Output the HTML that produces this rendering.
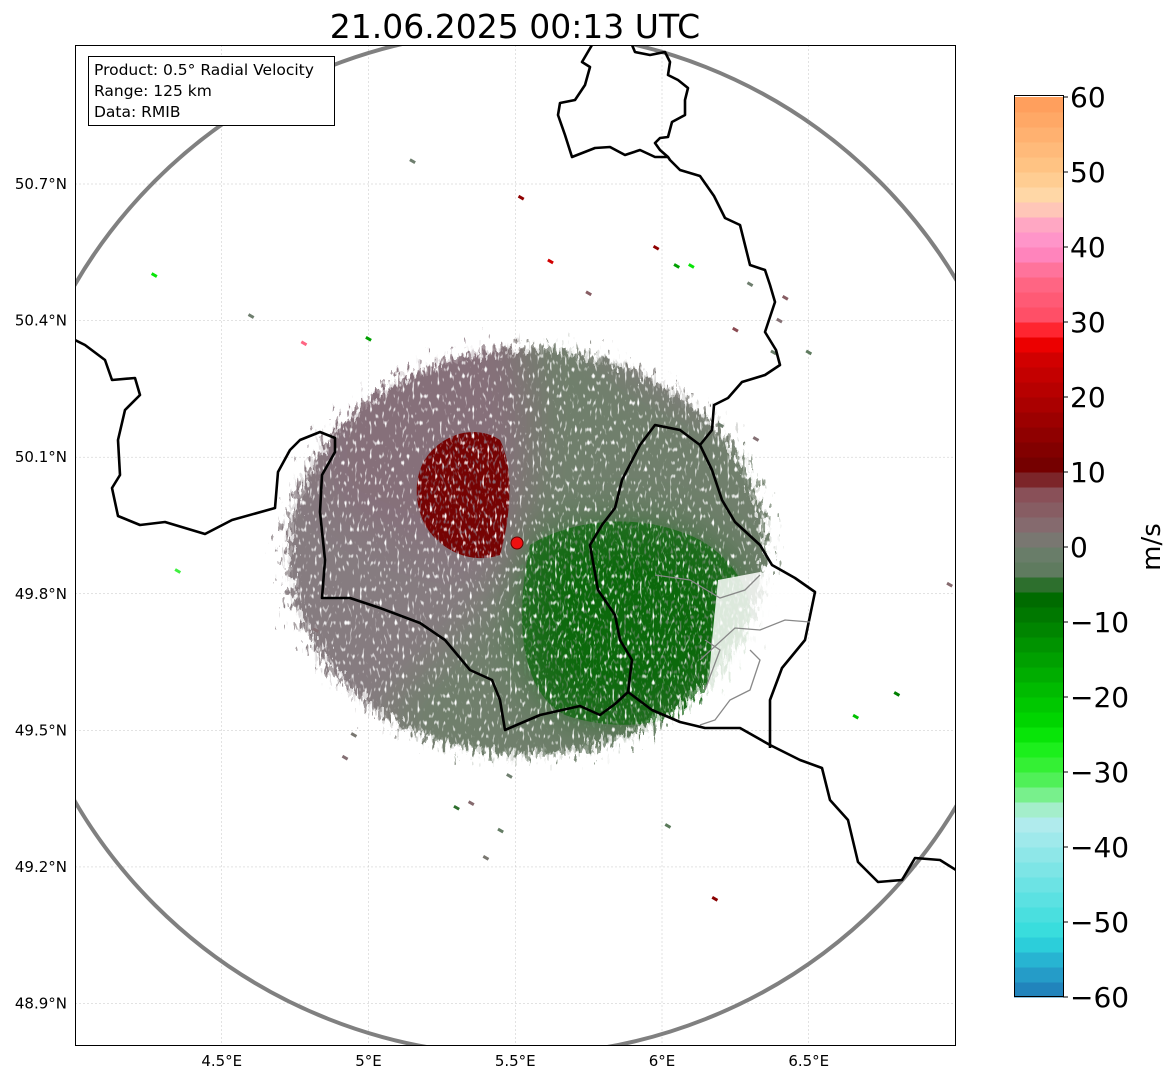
<!DOCTYPE html>
<html><head><meta charset="utf-8">
<style>
html,body{margin:0;padding:0;background:#fff;}
body{width:1171px;height:1081px;overflow:hidden;font-family:"DejaVu Sans","Liberation Sans",sans-serif;}
svg text{font-family:"DejaVu Sans","Liberation Sans",sans-serif;}
</style></head>
<body>
<svg id="fig" width="1171" height="1081" viewBox="0 0 1171 1081" xmlns="http://www.w3.org/2000/svg">
<defs>
  <clipPath id="axclip"><rect x="75" y="45" width="881" height="1001"/></clipPath>
  <radialGradient id="edgegrad" cx="527" cy="552" r="300" gradientUnits="userSpaceOnUse" gradientTransform="translate(527 552) scale(1 0.85) translate(-527 -552)">
    <stop offset="0.72" stop-color="#fff"/>
    <stop offset="1" stop-color="#000"/>
  </radialGradient>
  <filter id="edgef" x="0" y="0" width="100%" height="100%" color-interpolation-filters="sRGB">
    <feTurbulence type="fractalNoise" baseFrequency="0.28 0.09" numOctaves="2" seed="3" result="n"/>
    <feComposite in="SourceGraphic" in2="n" operator="arithmetic" k2="1" k3="1.0" k4="-0.5" result="s"/>
    <feComponentTransfer in="s">
      <feFuncR type="discrete" tableValues="0 1"/>
      <feFuncG type="discrete" tableValues="0 1"/>
      <feFuncB type="discrete" tableValues="0 1"/>
      <feFuncA type="linear" slope="0" intercept="1"/>
    </feComponentTransfer>
  </filter>
  <filter id="soft" x="-10%" y="-10%" width="120%" height="120%">
    <feGaussianBlur stdDeviation="22"/>
  </filter>
  <filter id="holes" x="0" y="0" width="100%" height="100%" color-interpolation-filters="sRGB">
    <feTurbulence type="fractalNoise" baseFrequency="0.4 0.15" numOctaves="1" seed="11"/>
    <feColorMatrix type="matrix" values="0 0 0 0 1  0 0 0 0 1  0 0 0 0 1  6 0 0 0 -3.6"/>
  </filter>
  <filter id="redspeck" x="0" y="0" width="100%" height="100%" color-interpolation-filters="sRGB">
    <feTurbulence type="fractalNoise" baseFrequency="0.45 0.2" numOctaves="1" seed="21"/>
    <feColorMatrix type="matrix" values="0 0 0 0 0.53  0 0 0 0 0.42  0 0 0 0 0.46  5 0 0 0 -2.7"/>
  </filter>
  <filter id="greenspeck" x="0" y="0" width="100%" height="100%" color-interpolation-filters="sRGB">
    <feTurbulence type="fractalNoise" baseFrequency="0.45 0.2" numOctaves="1" seed="31"/>
    <feColorMatrix type="matrix" values="0 0 0 0 0.38  0 0 0 0 0.52  0 0 0 0 0.38  5 0 0 0 -2.7"/>
  </filter>
  <mask id="echomask" maskUnits="userSpaceOnUse" x="0" y="0" width="1171" height="1081">
    <rect x="0" y="0" width="1171" height="1081" fill="url(#edgegrad)" filter="url(#edgef)"/>
  </mask>
  <clipPath id="redclip"><path d="M420,470 C430,440 470,420 500,440 C515,470 510,520 500,555 C470,565 440,550 425,525 C415,505 415,485 420,470 Z"/></clipPath>
  <clipPath id="greenclip"><path d="M525,540 C570,515 640,505 700,535 C760,570 770,630 740,680 C705,730 620,740 560,720 C520,700 505,630 525,540 Z"/></clipPath>
</defs>

<g>
  <rect x="75" y="45" width="881" height="1001" fill="#fff"/>
  <g id="grid"></g>
  <g clip-path="url(#axclip)">
    <g mask="url(#echomask)">
      <g filter="url(#soft)">
        <ellipse cx="527" cy="552" rx="320" ry="280" fill="#867c80"/>
        <path d="M517,280 C580,340 640,380 680,400 L840,470 L850,560 L820,760 L700,820 L560,830 L470,800 L380,720 C440,650 505,600 517,545 Z" fill="#6f7f6c"/>
        <path d="M340,370 C420,325 480,310 517,315 C540,420 525,500 510,545 C470,565 400,545 330,505 C310,460 320,420 340,370 Z" fill="#86707a"/>
        <path d="M530,545 C570,520 640,510 700,540 C755,572 765,630 735,678 C700,725 620,735 565,715 C525,695 512,630 530,545 Z" fill="#0b6a0b"/>
      </g>
      <path d="M530,545 C570,520 640,510 700,540 C755,572 765,630 735,678 C700,725 620,735 565,715 C525,695 512,630 530,545 Z" fill="#0b6a0b" opacity="0.7"/>
      <rect x="500" y="500" width="280" height="250" fill="#fff" filter="url(#greenspeck)" clip-path="url(#greenclip)"/>
      <path d="M420,470 C430,440 470,420 500,440 C515,470 510,520 500,555 C470,565 440,550 425,525 C415,505 415,485 420,470 Z" fill="#760303"/>
      <rect x="400" y="420" width="140" height="150" filter="url(#redspeck)" clip-path="url(#redclip)"/>
      <rect x="0" y="0" width="1171" height="1081" filter="url(#holes)"/>
    </g>
    <polygon points="718,580 760,572 790,580 812,592 800,640 780,670 768,700 745,705 715,720 708,690 712,640" fill="#fff" opacity="0.85"/>
    <g id="scatter"></g>
    <circle cx="517" cy="543" r="512" fill="none" stroke="#808080" stroke-width="4"/>
    <g id="borders" fill="none" stroke="#000" stroke-width="2.6" stroke-linejoin="round"></g>
    <g fill="none" stroke="#888" stroke-width="1.3">
      <polyline points="655,575 690,580 720,598 745,590 760,575"/>
      <polyline points="700,660 735,628 760,630 785,620 810,622"/>
      <polyline points="705,690 720,650 705,640"/>
      <polyline points="700,725 715,720 730,700 750,690 760,660 750,650"/>
    </g>
    <circle cx="517" cy="543" r="6" fill="#ee1111" stroke="#600" stroke-width="1"/>
  </g>
  <rect x="75.5" y="45.5" width="880" height="1000" fill="none" stroke="#000" stroke-width="1"/>
  <g id="ticks"></g>
  <g>
    <rect x="88.5" y="56.5" width="246" height="69" fill="#fff" stroke="#000" stroke-width="1"/>
    <text x="94" y="75" font-size="15.5">Product: 0.5° Radial Velocity</text>
    <text x="94" y="96" font-size="15.5">Range: 125 km</text>
    <text x="94" y="117" font-size="15.5">Data: RMIB</text>
  </g>
  <text x="515" y="38" font-size="33" text-anchor="middle">21.06.2025 00:13 UTC</text>
</g>

<g>
  <g id="cbar"></g>
  <rect x="1014.5" y="95.5" width="49" height="901" fill="none" stroke="#000" stroke-width="1"/>
  <g id="cbticks"></g>
  <text x="1160" y="547" font-size="26" text-anchor="middle" transform="rotate(-90 1160 547)">m/s</text>
</g>
</svg>

<script>
const NS = "http://www.w3.org/2000/svg";
// axis data
const lonTicks = [4.5, 5, 5.5, 6, 6.5];
const lonLabels = ["4.5°E", "5°E", "5.5°E", "6°E", "6.5°E"];
const latTicks = [50.7, 50.4, 50.1, 49.8, 49.5, 49.2, 48.9];
const latLabels = ["50.7°N", "50.4°N", "50.1°N", "49.8°N", "49.5°N", "49.2°N", "48.9°N"];
const cbTicks = [60, 50, 40, 30, 20, 10, 0, -10, -20, -30, -40, -50, -60];
// colorbar anchor colours (value, colour), bins of 2 m/s
const cbAnchorVals = [-60, -58, -56, -54, -52, -36, -34, -32, -30, -26, -24, -6, -4, 0, 2, 8, 10, 26, 28, 30, 36, 40, 44, 46, 50, 60];
const cbAnchorCols = ["#1f77b4","#2390c4","#26a8cc","#28c0d8","#30dcdc","#b8ecee","#90f0a8","#60f070","#40f040","#10ee10","#00dc00","#006400","#5a7a5a","#6e7e6e","#847074","#8a4a52","#6e0000","#d80000","#ff0000","#ff4a60","#ff6a8a","#ff8ccc","#ffb0c0","#ffdcb0","#ffc888","#ff9a58"];
// approximate outlying echo cells (lon, lat, velocity)
const echoLon = [4.27,4.6,4.78,4.35,5.98,6.05,6.3,6.42,6.5,6.66,6.8,6.98,5.15,5.52,5.62,5.0,4.82,5.48,5.35,5.45,5.4,4.95,4.92,5.3,6.18,6.02,6.4,6.38,6.2,6.32,5.75,6.1,6.25];
const echoLat = [50.5,50.41,50.35,49.85,50.56,50.52,50.48,50.45,50.33,49.53,49.58,49.82,50.75,50.67,50.53,50.36,49.72,49.4,49.34,49.28,49.22,49.49,49.44,49.33,49.13,49.29,50.4,50.33,50.17,50.14,50.46,50.52,50.38];
const echoVel = [-25,0,35,-30,15,-15,0,5,-3,-20,-10,3,0,15,25,-15,2,0,3,-2,1,1,2,-5,14,-4,2,-1,0,2,5,-25,8];

const lonX = lon => 75 + (lon - 4.0) * 293.5;
const latY = lat => 184 + (50.7 - lat) * 455.3;
const vY = v => 547 - v * 7.5;

function hex2rgb(h){return [1,3,5].map(i=>parseInt(h.substr(i,2),16));}
function colorFor(v){
  for(let i=0;i<cbAnchorVals.length-1;i++){
    if(v>=cbAnchorVals[i] && v<=cbAnchorVals[i+1]){
      const t=(v-cbAnchorVals[i])/(cbAnchorVals[i+1]-cbAnchorVals[i]);
      const a=hex2rgb(cbAnchorCols[i]), b=hex2rgb(cbAnchorCols[i+1]);
      return "rgb("+a.map((c,k)=>Math.round(c+(b[k]-c)*t)).join(",")+")";
    }
  }
  return cbAnchorCols[cbAnchorCols.length-1];
}
function mk(tag, attrs, parent){const e=document.createElementNS(NS,tag);for(const k in attrs)e.setAttribute(k,attrs[k]);parent.appendChild(e);return e;}

// grid and ticks
const grid=document.getElementById('grid'), ticks=document.getElementById('ticks');
lonTicks.forEach((lon,i)=>{
  const x=lonX(lon);
  const g=mk('line',{x1:x,y1:45,x2:x,y2:1046,stroke:'#c4c4c4','stroke-width':0.5,'stroke-dasharray':'2,2'},grid);
  
  
  const t=mk('text',{x:x,y:1066,'font-size':15,'text-anchor':'middle'},ticks);
  t.textContent=lonLabels[i];
  
  
});
latTicks.forEach((lat,i)=>{
  const y=latY(lat);
  const g=mk('line',{x1:75,y1:y,x2:956,y2:y,stroke:'#c4c4c4','stroke-width':0.5,'stroke-dasharray':'2,2'},grid);
  
  
  const t=mk('text',{x:67,y:y+5,'font-size':15,'text-anchor':'end'},ticks);
  t.textContent=latLabels[i];
  
  
});

// colorbar
const cbar=document.getElementById('cbar'), cbt=document.getElementById('cbticks');
for(let v=-60; v<60; v+=2){
  const r=mk('rect',{x:1014,y:vY(v+2),width:50,height:vY(v)-vY(v+2)+0.5,fill:colorFor(v+1)},cbar);
  
  
}
cbTicks.forEach(v=>{
  const y=vY(v);
  mk('line',{x1:1063,y1:y,x2:1068,y2:y,stroke:'#000','stroke-width':1},cbt);
  const t=mk('text',{x:1070,y:y+10,'font-size':28},cbt);
  t.textContent=(v<0?"\u2212"+Math.abs(v):String(v));
  
  
});

// outlying echoes
const sc=document.getElementById('scatter');
echoLon.forEach((lon,i)=>{
  const x=lonX(lon), y=latY(echoLat[i]);
  const r=mk('rect',{x:x-3,y:y-1.5,width:6,height:3,fill:colorFor(echoVel[i]),transform:`rotate(30 ${x} ${y})`},sc);
  
  
});

// borders
const borders = [
 "75,340 85,345 105,360 112,380 135,378 140,395 125,410 118,440 120,475 112,488 118,516 140,525 165,522 205,534 232,520 275,508 278,472 290,450 300,440 320,432 335,438 335,452 322,475 320,512 325,560 322,598 350,598 380,608 420,623 445,640 470,670 492,680 500,700 505,730 540,715 580,706 600,715 615,704 628,692 632,660 620,640 615,615 598,590 590,545 602,525 615,508 622,480 640,445 655,425 680,430 700,445 712,430 714,405 728,398 742,382 765,375 780,365 776,350 765,332 775,302 770,285 765,270 750,265 745,245 740,225 725,218 714,196 700,176 690,173 680,170 670,160 668,157 660,150 655,143 660,138 668,137 672,122 685,115 685,100 688,88 678,80 668,75 670,62 665,52 650,55 635,52 632,45",
 "668,157 655,157 640,150 625,155 610,147 595,148 572,157 565,135 558,115 560,103 575,100 585,85 590,67 582,62 592,45",
 "700,445 712,470 722,500 735,522 760,545 772,565 795,578 815,592 805,640 782,668 770,700 770,748",
 "628,692 652,710 680,722 705,728 740,728 770,745 800,760 822,768 830,800 848,820 858,862 878,882 902,880 915,858 940,860 956,870"
];
const bd=document.getElementById('borders');
borders.forEach(p=>{
  const l=mk('polyline',{points:p},bd);
  
  
});
</script>
</body></html>
